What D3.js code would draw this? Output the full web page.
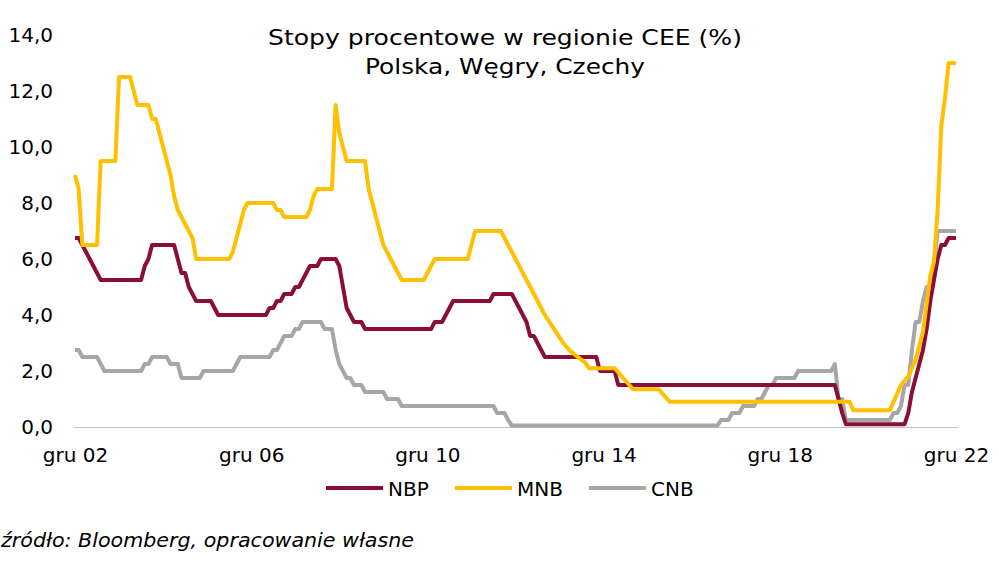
<!DOCTYPE html>
<html><head><meta charset="utf-8">
<script src="https://cdn.jsdelivr.net/npm/d3@7"></script>
<style>
html,body{margin:0;padding:0;background:#fff;}
svg{display:block;font-family:"DejaVu Sans",Verdana,sans-serif;}
</style></head>
<body><svg id="c" width="999" height="565"></svg>
<script>
// Monthly data, first point = "gru 02", last point = "gru 22" (241 months)
const tickLabels = ["gru 02","gru 06","gru 10","gru 14","gru 18","gru 22"];
const tickIndex = [0,48,96,144,192,240];
const seriesNames = ["NBP","MNB","CNB"];
const seriesColors = ["#8B0D3A","#FFC000","#A6A6A6"];

const nbp = [6.75,6.75,
 6.5,6.25,6.0,5.75,5.5,5.25,5.25,5.25,5.25,5.25,5.25,5.25,
 5.25,5.25,5.25,5.25,5.25,5.75,6.0,6.5,6.5,6.5,6.5,6.5,
 6.5,6.5,6.0,5.5,5.5,5.0,4.75,4.5,4.5,4.5,4.5,4.5,
 4.25,4.0,4.0,4.0,4.0,4.0,4.0,4.0,4.0,4.0,4.0,4.0,
 4.0,4.0,4.0,4.25,4.25,4.5,4.5,4.75,4.75,4.75,5.0,5.0,
 5.25,5.5,5.75,5.75,5.75,6.0,6.0,6.0,6.0,6.0,5.75,5.0,
 4.25,4.0,3.75,3.75,3.75,3.5,3.5,3.5,3.5,3.5,3.5,3.5,
 3.5,3.5,3.5,3.5,3.5,3.5,3.5,3.5,3.5,3.5,3.5,3.5,
 3.75,3.75,3.75,4.0,4.25,4.5,4.5,4.5,4.5,4.5,4.5,4.5,
 4.5,4.5,4.5,4.5,4.75,4.75,4.75,4.75,4.75,4.75,4.5,4.25,
 4.0,3.75,3.25,3.25,3.0,2.75,2.5,2.5,2.5,2.5,2.5,2.5,
 2.5,2.5,2.5,2.5,2.5,2.5,2.5,2.5,2.5,2.0,2.0,2.0,
 2.0,2.0,1.5,1.5,1.5,1.5,1.5,1.5,1.5,1.5,1.5,1.5,
 1.5,1.5,1.5,1.5,1.5,1.5,1.5,1.5,1.5,1.5,1.5,1.5,
 1.5,1.5,1.5,1.5,1.5,1.5,1.5,1.5,1.5,1.5,1.5,1.5,
 1.5,1.5,1.5,1.5,1.5,1.5,1.5,1.5,1.5,1.5,1.5,1.5,
 1.5,1.5,1.5,1.5,1.5,1.5,1.5,1.5,1.5,1.5,1.5,1.5,
 1.5,1.5,1.0,0.5,0.1,0.1,0.1,0.1,0.1,0.1,0.1,0.1,
 0.1,0.1,0.1,0.1,0.1,0.1,0.1,0.1,0.1,0.5,1.25,1.75,
 2.25,2.75,3.5,4.5,5.25,6.0,6.5,6.5,6.75,6.75,6.75];

const mnb = [9.0,8.5,
 6.5,6.5,6.5,6.5,6.5,9.5,9.5,9.5,9.5,9.5,12.5,12.5,
 12.5,12.5,12.0,11.5,11.5,11.5,11.5,11.0,11.0,10.5,10.0,9.5,
 9.0,8.25,7.75,7.5,7.25,7.0,6.75,6.0,6.0,6.0,6.0,6.0,
 6.0,6.0,6.0,6.0,6.0,6.25,6.75,7.25,7.75,8.0,8.0,8.0,
 8.0,8.0,8.0,8.0,8.0,7.75,7.75,7.5,7.5,7.5,7.5,7.5,
 7.5,7.5,7.75,8.25,8.5,8.5,8.5,8.5,8.5,11.5,10.5,10.0,
 9.5,9.5,9.5,9.5,9.5,9.5,8.5,8.0,7.5,7.0,6.5,6.25,
 6.0,5.75,5.5,5.25,5.25,5.25,5.25,5.25,5.25,5.25,5.5,5.75,
 6.0,6.0,6.0,6.0,6.0,6.0,6.0,6.0,6.0,6.0,6.5,7.0,
 7.0,7.0,7.0,7.0,7.0,7.0,7.0,6.75,6.5,6.25,6.0,5.75,
 5.5,5.25,5.0,4.75,4.5,4.25,4.0,3.8,3.6,3.4,3.2,3.0,
 2.85,2.7,2.6,2.5,2.4,2.3,2.1,2.1,2.1,2.1,2.1,2.1,
 2.1,2.1,1.95,1.8,1.65,1.5,1.35,1.35,1.35,1.35,1.35,1.35,
 1.35,1.35,1.2,1.05,0.9,0.9,0.9,0.9,0.9,0.9,0.9,0.9,
 0.9,0.9,0.9,0.9,0.9,0.9,0.9,0.9,0.9,0.9,0.9,0.9,
 0.9,0.9,0.9,0.9,0.9,0.9,0.9,0.9,0.9,0.9,0.9,0.9,
 0.9,0.9,0.9,0.9,0.9,0.9,0.9,0.9,0.9,0.9,0.9,0.9,
 0.9,0.9,0.9,0.9,0.9,0.9,0.6,0.6,0.6,0.6,0.6,0.6,
 0.6,0.6,0.6,0.6,0.6,0.9,1.2,1.5,1.65,1.8,2.1,2.4,
 2.9,3.4,4.4,5.4,5.9,7.75,10.75,11.75,13.0,13.0,13.0];

const cnb = [2.75,2.75,
 2.5,2.5,2.5,2.5,2.5,2.25,2.0,2.0,2.0,2.0,2.0,2.0,
 2.0,2.0,2.0,2.0,2.0,2.25,2.25,2.5,2.5,2.5,2.5,2.5,
 2.25,2.25,2.25,1.75,1.75,1.75,1.75,1.75,1.75,2.0,2.0,2.0,
 2.0,2.0,2.0,2.0,2.0,2.0,2.25,2.5,2.5,2.5,2.5,2.5,
 2.5,2.5,2.5,2.5,2.75,2.75,3.0,3.25,3.25,3.25,3.5,3.5,
 3.75,3.75,3.75,3.75,3.75,3.75,3.5,3.5,3.5,2.75,2.25,2.0,
 1.75,1.75,1.5,1.5,1.5,1.25,1.25,1.25,1.25,1.25,1.25,1.0,
 1.0,1.0,1.0,0.75,0.75,0.75,0.75,0.75,0.75,0.75,0.75,0.75,
 0.75,0.75,0.75,0.75,0.75,0.75,0.75,0.75,0.75,0.75,0.75,0.75,
 0.75,0.75,0.75,0.75,0.75,0.5,0.5,0.5,0.25,0.05,0.05,0.05,
 0.05,0.05,0.05,0.05,0.05,0.05,0.05,0.05,0.05,0.05,0.05,0.05,
 0.05,0.05,0.05,0.05,0.05,0.05,0.05,0.05,0.05,0.05,0.05,0.05,
 0.05,0.05,0.05,0.05,0.05,0.05,0.05,0.05,0.05,0.05,0.05,0.05,
 0.05,0.05,0.05,0.05,0.05,0.05,0.05,0.05,0.05,0.05,0.05,0.05,
 0.05,0.05,0.05,0.05,0.05,0.05,0.25,0.25,0.25,0.5,0.5,0.5,
 0.75,0.75,0.75,0.75,1.0,1.0,1.25,1.5,1.5,1.75,1.75,1.75,
 1.75,1.75,1.75,2.0,2.0,2.0,2.0,2.0,2.0,2.0,2.0,2.0,
 2.0,2.25,1.0,1.0,0.25,0.25,0.25,0.25,0.25,0.25,0.25,0.25,
 0.25,0.25,0.25,0.25,0.25,0.5,0.5,0.75,1.5,1.5,2.75,3.75,
 3.75,4.5,5.0,5.0,5.75,7.0,7.0,7.0,7.0,7.0,7.0];

const yTicks = [0,2,4,6,8,10,12,14];

const svg = d3.select("#c");
const x = d3.scaleLinear().domain([0,240]).range([75,956]);
const y = d3.scaleLinear().domain([0,14]).range([427,35]);

// title
svg.append("text").attr("x",505).attr("y",45).attr("text-anchor","middle")
  .attr("font-size",22).attr("fill","#000")
  .attr("textLength",474).attr("lengthAdjust","spacingAndGlyphs")
  .text("Stopy procentowe w regionie CEE (%)");
svg.append("text").attr("x",505).attr("y",74).attr("text-anchor","middle")
  .attr("font-size",22).attr("fill","#000")
  .attr("textLength",280).attr("lengthAdjust","spacingAndGlyphs")
  .text("Polska, Węgry, Czechy");

// y axis labels
const yAxis = d3.axisLeft(y).tickValues(yTicks).tickSize(0).tickPadding(0)
  .tickFormat(d => d3.format(".1f")(d).replace(".", ","));
const gy = svg.append("g").attr("transform","translate(53,0)").call(yAxis);
gy.select(".domain").remove();
gy.selectAll("text").attr("font-size",20).attr("fill","#000")
  .attr("font-family","DejaVu Sans, Verdana, sans-serif");

// x axis
const xAxis = d3.axisBottom(x).tickValues(tickIndex).tickSize(0).tickPadding(0)
  .tickFormat((d,i) => tickLabels[i]);
const gx = svg.append("g").attr("transform","translate(0,427)").call(xAxis);
gx.select(".domain").attr("d","M74,0.5H958").attr("stroke","#BFBFBF").attr("stroke-width",1.2);
gx.selectAll("text").attr("font-size",20).attr("fill","#000").attr("dy",0).attr("y",35)
  .attr("font-family","DejaVu Sans, Verdana, sans-serif");

// lines
const seriesData = [nbp, mnb, cnb];
const line = d3.line().x((d,i)=>x(i)).y(d=>y(d));
[2,0,1].forEach(k => {
  svg.append("path").datum(seriesData[k]).attr("d",line)
    .attr("fill","none").attr("stroke",seriesColors[k]).attr("stroke-width",4)
    .attr("stroke-linejoin","round").attr("stroke-linecap","butt");
});

// legend
const legX = [326,455,589];
seriesNames.forEach((n,k) => {
  svg.append("line").attr("x1",legX[k]).attr("x2",legX[k]+57).attr("y1",488).attr("y2",488)
    .attr("stroke",seriesColors[k]).attr("stroke-width",4);
  svg.append("text").attr("x",legX[k]+62).attr("y",496).attr("font-size",20).attr("fill","#000").text(n);
});

// source
svg.append("text").attr("x",1).attr("y",547).attr("font-size",20).attr("font-style","italic")
  .attr("fill","#000").attr("textLength",413).attr("lengthAdjust","spacingAndGlyphs")
  .text("źródło: Bloomberg, opracowanie własne");
</script></body></html>
